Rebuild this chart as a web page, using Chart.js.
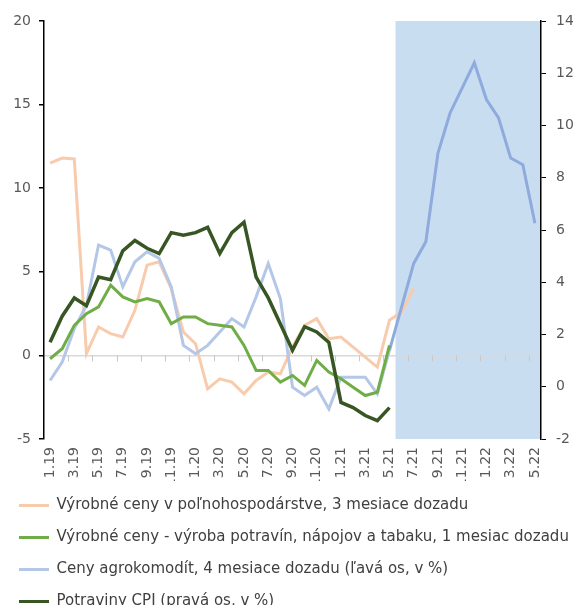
<!DOCTYPE html>
<html>
<head>
<meta charset="utf-8">
<script src="https://cdn.jsdelivr.net/npm/chart.js@4/dist/chart.umd.min.js"></script>
<style>
  html, body { margin: 0; padding: 0; background: #fff; overflow: hidden; }
  #wrap { width: 573px; height: 605px; overflow: hidden; }
</style>
</head>
<body>
<div id="wrap"><canvas id="chart" width="580" height="619"></canvas></div>
<script>
// monthly categories 1.19 .. 5.22
const months = [
  '1.19','2.19','3.19','4.19','5.19','6.19','7.19','8.19','9.19','10.19','11.19','12.19',
  '1.20','2.20','3.20','4.20','5.20','6.20','7.20','8.20','9.20','10.20','11.20','12.20',
  '1.21','2.21','3.21','4.21','5.21','6.21','7.21','8.21','9.21','10.21','11.21','12.21',
  '1.22','2.22','3.22','4.22','5.22'
];

// left axis, %
const vyrobneCenyPolno = [
  11.5, 11.8, 11.75, 0.1, 1.7, 1.3, 1.1, 2.7, 5.4, 5.6, 4.0, 1.4,
  0.7, -2.0, -1.4, -1.6, -2.3, -1.5, -1.0, -1.1, 0.5, 1.8, 2.2, 1.0,
  1.1, 0.5, -0.1, -0.7, 2.1, 2.6, 4.0
];
const vyrobneCenyPotraviny = [
  -0.2, 0.4, 1.8, 2.5, 2.9, 4.2, 3.5, 3.2, 3.4, 3.2, 1.9, 2.3,
  2.3, 1.9, 1.8, 1.7, 0.6, -0.9, -0.9, -1.6, -1.2, -1.8, -0.3, -1.0,
  -1.4, -1.9, -2.4, -2.2, 0.6
];
const cenyAgrokomodit = [
  -1.5, -0.4, 1.6, 3.0, 6.6, 6.3, 4.1, 5.6, 6.2, 5.8, 4.1, 0.6,
  0.1, 0.6, 1.4, 2.2, 1.7, 3.5, 5.5, 3.4, -1.9, -2.4, -1.9, -3.2,
  -1.3, -1.3, -1.3, -2.3, 0.3, 2.9, 5.5, 6.8, 12.1, 14.5, 16.0, 17.5,
  15.3, 14.2, 11.8, 11.4, 7.9
];
// right axis, %
const potravinyCPI = [
  1.7, 2.7, 3.4, 3.1, 4.2, 4.1, 5.2, 5.6, 5.3, 5.1, 5.9, 5.8,
  5.9, 6.1, 5.1, 5.9, 6.3, 4.2, 3.4, 2.4, 1.4, 2.3, 2.1, 1.7,
  -0.6, -0.8, -1.1, -1.3, -0.8
];

// shaded period starts between 5.21 and 6.21
const shadeFrom = 28.5;

Chart.defaults.font.family = "'DejaVu Sans', Verdana, sans-serif";
Chart.defaults.font.size = 14;
Chart.defaults.color = '#595959';

const shadePlugin = {
  id: 'shade',
  beforeDraw(chart) {
    const { ctx, chartArea, scales } = chart;
    const x0 = scales.x.getPixelForValue(shadeFrom);
    ctx.save();
    ctx.fillStyle = '#C9DDF0';
    ctx.fillRect(x0, chartArea.top, chartArea.right - x0, chartArea.bottom - chartArea.top);
    ctx.restore();
  },
  beforeDatasetsDraw(chart) {
    // small tick marks on the zero line
    const { ctx, scales } = chart;
    const y0 = scales.y.getPixelForValue(0);
    ctx.save();
    ctx.strokeStyle = '#C8C8C8';
    ctx.lineWidth = 1;
    for (let v = 1.5; v < months.length; v += 2) {
      const x = Math.round(scales.x.getPixelForValue(v)) + 0.5;
      ctx.beginPath();
      ctx.moveTo(x, y0);
      ctx.lineTo(x, y0 + 6);
      ctx.stroke();
    }
    ctx.restore();
  }
};

const lineDs = (label, data, color, axis, order, width) => ({
  label, data, yAxisID: axis, order,
  borderColor: color, backgroundColor: color,
  borderWidth: width, pointRadius: 0, tension: 0, fill: false
});

const blue = lineDs('Ceny agrokomodít, 4 mesiace dozadu (ľavá os, v %)', cenyAgrokomodit, '#B4C7E7', 'y', 3, 3);
blue.segment = { borderColor: c => c.p0DataIndex >= 28 ? '#8FAADC' : undefined };

new Chart(document.getElementById('chart'), {
  type: 'line',
  data: {
    labels: months,
    datasets: [
      lineDs('Výrobné ceny v poľnohospodárstve, 3 mesiace dozadu', vyrobneCenyPolno, '#F8CBAD', 'y', 4, 3),
      lineDs('Výrobné ceny - výroba potravín, nápojov a tabaku, 1 mesiac dozadu', vyrobneCenyPotraviny, '#70AD47', 'y', 2, 3),
      blue,
      lineDs('Potraviny CPI (pravá os, v %)', potravinyCPI, '#375623', 'y1', 1, 3.5)
    ]
  },
  options: {
    responsive: false,
    animation: false,
    layout: { padding: { top: 21, left: 2, right: 0, bottom: 0 } },
    plugins: {
      tooltip: { enabled: false },
      legend: {
        position: 'bottom',
        align: 'start',
        labels: {
          color: '#404040',
          font: { size: 15 },
          boxWidth: 30,
          boxHeight: 3,
          padding: 17,
          sort: (a, b) => a.datasetIndex - b.datasetIndex,
          generateLabels: chart => Chart.defaults.plugins.legend.labels.generateLabels(chart)
            .map(l => Object.assign(l, { fillStyle: l.strokeStyle, lineWidth: 0 }))
        }
      }
    },
    scales: {
      x: {
        offset: true,
        grid: { display: false, drawTicks: false },
        border: { display: false },
        ticks: {
          autoSkip: false,
          minRotation: 90,
          maxRotation: 90,
          padding: 8,
          callback: (v, i) => i % 2 === 0 ? months[i] : ''
        },
        afterFit: s => { s.height = 42; }
      },
      y: {
        position: 'left',
        min: -5, max: 20,
        ticks: { stepSize: 5, padding: 8 },
        border: { color: '#000', width: 1.5 },
        grid: {
          color: c => c.tick && c.tick.value === 0 ? '#D9D9D9' : 'rgba(0,0,0,0)',
          lineWidth: 1.5,
          tickColor: '#000',
          tickLength: 5
        },
        afterFit: s => { s.width = 42; }
      },
      y1: {
        position: 'right',
        min: -2, max: 14,
        ticks: { stepSize: 2, padding: 10 },
        border: { color: '#000', width: 1.5 },
        grid: { drawOnChartArea: false, tickColor: '#000', tickLength: 5 },
        afterFit: s => { s.width = 39; }
      }
    }
  },
  plugins: [shadePlugin]
});
</script>
</body>
</html>
